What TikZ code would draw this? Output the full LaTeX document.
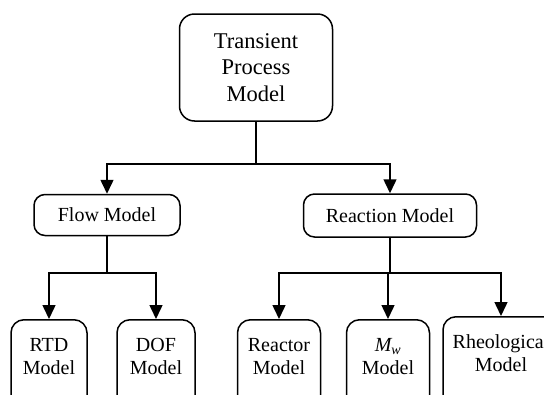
\documentclass[tikz,border=0pt]{standalone}
\usepackage{fontspec}
\setmainfont{Liberation Serif}
\usetikzlibrary{arrows.meta}

\tikzset{
  box/.style={draw, line width=1.5pt, rounded corners=11pt, align=center, inner sep=0pt},
  leaf/.style={box, anchor=north, rounded corners=13pt, inner ysep=4pt, text height=51pt, text depth=40pt},
  edge/.style={line width=1.5pt},
  link/.style={edge, -{Triangle[width=13pt,length=14pt]}},
}

\begin{document}
\begin{tikzpicture}[x=1pt, y=-1pt, font=\fontsize{20}{23.5}\selectfont]

        \useasboundingbox (0,0) rectangle (544,394);
        \clip (0,0) rectangle (544,394);

        % top level
        \node[box, rounded corners=15pt, minimum width=153pt, minimum height=107pt,
              font=\fontsize{22.5}{26.5}\selectfont] (tpm) at (256,67.5) {Transient\\Process\\Model};

        % second level
        \node[box, minimum width=146pt, minimum height=41pt] (flow) at (107,215) {Flow Model};
        \node[box, minimum width=173pt, minimum height=43pt] (rxn) at (390,215.5) {Reaction Model};

        % leaves
        \node[leaf, minimum width=76pt] (rtd) at (49,319) {RTD\\Model};
        \node[leaf, minimum width=78pt] (dof) at (156,319) {DOF\\Model};
        \node[leaf, minimum width=83pt] (reactor) at (279,319) {Reactor\\Model};
        \node[leaf, minimum width=83pt] (mw) at (388,319) {\textit{M\textsubscript{w}}\\Model};
        \node[leaf, minimum width=116pt] (rheo) at (501,316) {Rheological\\Model};

        \coordinate (j1) at (256,164);
        \coordinate (j2) at (107,273);
        \coordinate (j3) at (390,273);

        \draw[edge] (tpm.south) -- (j1);
        \draw[link] (j1) -| (flow.north);
        \draw[link] (j1) -| (rxn.north);

        \draw[edge] (flow.south) -- (j2);
        \draw[link] (j2) -| (rtd.north);
        \draw[link] (j2) -| (dof.north);

        \draw[edge] (rxn.south) -- (j3);
        \draw[link] (j3) -| (reactor.north);
        \draw[link] (j3) -| (mw.north);
        \draw[link] (j3) -| (rheo.north);

    \end{tikzpicture}
\end{document}
